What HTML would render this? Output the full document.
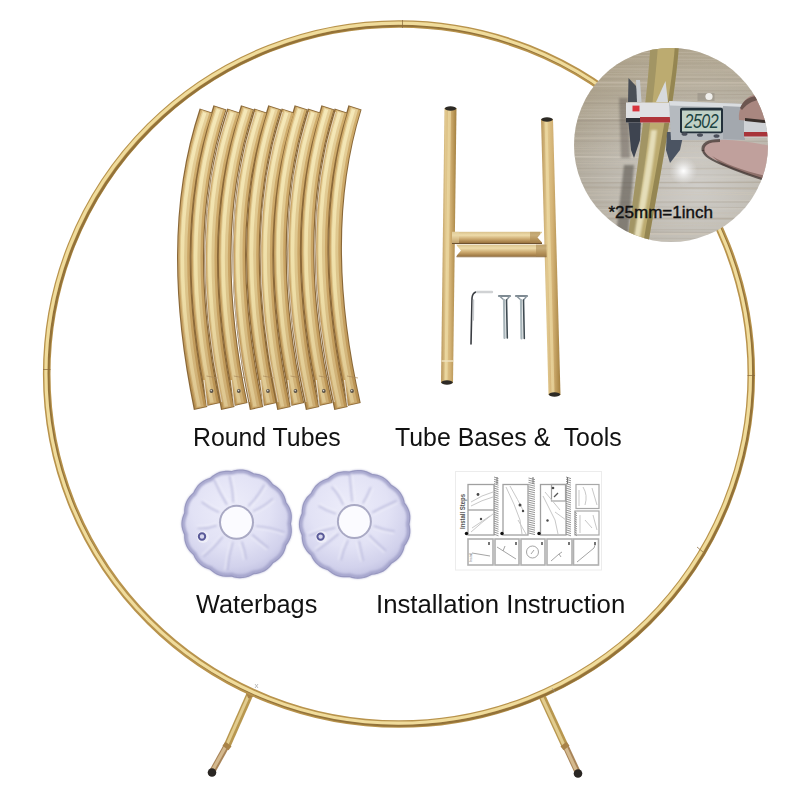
<!DOCTYPE html>
<html><head><meta charset="utf-8">
<style>
html,body{margin:0;padding:0;background:#fff;}
body{width:800px;height:800px;overflow:hidden;position:relative;}
svg{position:absolute;left:0;top:0;}
.lbl{position:absolute;font-family:"Liberation Sans",sans-serif;color:#111;white-space:pre;line-height:1;transform-origin:0 0;}
</style></head><body>
<svg width="800" height="800" viewBox="0 0 800 800">
<defs>
<filter id="bl1" x="-10%" y="-10%" width="120%" height="120%"><feGaussianBlur stdDeviation="1.1"/></filter>
<filter id="bl05" x="-10%" y="-10%" width="120%" height="120%"><feGaussianBlur stdDeviation="0.6"/></filter>
<clipPath id="pc"><circle cx="671" cy="145" r="97"/></clipPath>
<linearGradient id="brass" gradientUnits="userSpaceOnUse" x1="635" y1="145" x2="664" y2="149">
<stop offset="0" stop-color="#8c8254"/><stop offset="0.3" stop-color="#b8a86e"/><stop offset="0.6" stop-color="#c9b77a"/><stop offset="0.85" stop-color="#a08a4a"/><stop offset="1" stop-color="#6e5c2c"/>
</linearGradient>
<radialGradient id="woodbg" cx="0.62" cy="0.68" r="0.75">
<stop offset="0" stop-color="#cfcdc9"/><stop offset="0.55" stop-color="#bdb8ae"/><stop offset="1" stop-color="#aaa292"/>
</radialGradient>
<linearGradient id="woodtint" x1="0.3" y1="0" x2="0.5" y2="1">
<stop offset="0" stop-color="#ad9a72" stop-opacity="0.35"/><stop offset="0.55" stop-color="#ad9a72" stop-opacity="0"/>
</linearGradient>
<radialGradient id="glare" cx="0.5" cy="0.5" r="0.5">
<stop offset="0" stop-color="#ffffff" stop-opacity="1"/><stop offset="0.3" stop-color="#f4f4f4" stop-opacity="0.8"/><stop offset="1" stop-color="#e0e0e0" stop-opacity="0"/>
</radialGradient>
<radialGradient id="bagg" cx="0.45" cy="0.35" r="0.65">
<stop offset="0" stop-color="#ededfa"/><stop offset="0.55" stop-color="#e2e2f5"/><stop offset="0.85" stop-color="#d2d2ec"/><stop offset="1" stop-color="#c2c2e2"/>
</radialGradient>
<linearGradient id="skin" x1="0" y1="0" x2="0" y2="1">
<stop offset="0" stop-color="#b48e8e"/><stop offset="1" stop-color="#c9a3a6"/>
</linearGradient>
<linearGradient id="tg2" gradientUnits="userSpaceOnUse" x1="0" y1="105" x2="0" y2="410">
<stop offset="0" stop-color="#d0ad6c"/><stop offset="0.6" stop-color="#c9a465"/><stop offset="1" stop-color="#b89050"/>
</linearGradient>
<linearGradient id="tg3" gradientUnits="userSpaceOnUse" x1="0" y1="105" x2="0" y2="410">
<stop offset="0" stop-color="#e6d09a"/><stop offset="0.6" stop-color="#dcc48a"/><stop offset="1" stop-color="#ccab70"/>
</linearGradient>
<linearGradient id="tg4" gradientUnits="userSpaceOnUse" x1="0" y1="105" x2="0" y2="410">
<stop offset="0" stop-color="#f5e8b8"/><stop offset="0.6" stop-color="#efdfa8"/><stop offset="1" stop-color="#dcc48e"/>
</linearGradient>
<linearGradient id="postg" x1="0" y1="0" x2="1" y2="0">
<stop offset="0" stop-color="#b8955a"/><stop offset="0.3" stop-color="#e2c98f"/><stop offset="0.6" stop-color="#d3b275"/><stop offset="1" stop-color="#a4803f"/>
</linearGradient>
<linearGradient id="barg" x1="0" y1="0" x2="0" y2="1">
<stop offset="0" stop-color="#d9c18c"/><stop offset="0.3" stop-color="#eedcaa"/><stop offset="0.65" stop-color="#c9a66c"/><stop offset="1" stop-color="#96703c"/>
</linearGradient>
</defs>
<!-- legs -->
<g stroke-linecap="butt" fill="none">
<line x1="250" y1="694" x2="227" y2="746" stroke="#b8974f" stroke-width="7"/>
<line x1="249.3" y1="694" x2="226.3" y2="746" stroke="#e2cc8e" stroke-width="3"/>
<line x1="227" y1="745" x2="212" y2="772" stroke="#a88458" stroke-width="6.2"/>
<line x1="226.5" y1="745" x2="211.5" y2="772" stroke="#d4b98e" stroke-width="3.2"/>
<line x1="249.5" y1="691" x2="252" y2="697" stroke="#a98348" stroke-width="8"/>
<line x1="228.5" y1="744" x2="225.5" y2="748" stroke="#a98348" stroke-width="7.5"/>
<line x1="541.5" y1="695" x2="565" y2="746" stroke="#b8974f" stroke-width="7"/>
<line x1="540.8" y1="695" x2="564.3" y2="746" stroke="#e2cc8e" stroke-width="3"/>
<line x1="565" y1="745" x2="578" y2="773" stroke="#a88458" stroke-width="6.2"/>
<line x1="564.5" y1="745" x2="577.5" y2="773" stroke="#d4b98e" stroke-width="3.2"/>
<line x1="563.5" y1="744" x2="566.5" y2="748" stroke="#a98348" stroke-width="7.5"/>
</g>
<circle cx="212" cy="772.5" r="4.3" fill="#2a2623"/>
<circle cx="578" cy="773.5" r="4.3" fill="#2a2623"/>
<!-- ring -->
<g fill="none">
<ellipse cx="399" cy="374" rx="352.3" ry="350" stroke="#b8934c" stroke-width="7.6"/>
<ellipse cx="400.6" cy="375.6" rx="352.3" ry="350" stroke="#8a6a34" stroke-width="2.4" opacity="0.8"/>
<ellipse cx="398.2" cy="373.2" rx="352.3" ry="350" stroke="#f0dc9c" stroke-width="3.2"/>
</g>
<g stroke="#8a6a3a" stroke-width="0.9" opacity="0.8">
<line x1="402.5" y1="20" x2="402.5" y2="28"/>
<line x1="43" y1="369.5" x2="50.5" y2="369.5"/>
<line x1="747.5" y1="375.5" x2="755" y2="375.5"/>
<line x1="697" y1="547" x2="703" y2="552"/>
</g>
<g stroke="#9a9a9a" stroke-width="0.8" opacity="0.8">
<path d="M255 684 L258 688 M258 684 L255 688"/>
<path d="M552 688 L555 692"/>
</g>
<!-- tubes -->
<g fill="none" stroke-linecap="butt">
<path d="M206.2 110.6 Q164.6 235 200.6 408.5" stroke="#8a6838" stroke-width="13.8"/><path d="M220.0 107.4 Q177.9 235 213.5 404.5" stroke="#8a6838" stroke-width="13.8"/><path d="M233.8 110.6 Q191.9 235 227.8 408.5" stroke="#8a6838" stroke-width="13.8"/><path d="M247.5 107.4 Q205.3 235 240.8 404.5" stroke="#8a6838" stroke-width="13.8"/><path d="M260.8 110.6 Q219.9 235 256.6 408.5" stroke="#8a6838" stroke-width="13.8"/><path d="M274.8 107.4 Q233.6 235 270.0 404.5" stroke="#8a6838" stroke-width="13.8"/><path d="M288.2 110.6 Q247.2 235 284.0 408.5" stroke="#8a6838" stroke-width="13.8"/><path d="M301.2 107.4 Q260.5 235 297.5 404.5" stroke="#8a6838" stroke-width="13.8"/><path d="M314.5 110.6 Q274.7 235 312.6 408.5" stroke="#8a6838" stroke-width="13.8"/><path d="M328.0 107.4 Q288.1 235 325.8 404.5" stroke="#8a6838" stroke-width="13.8"/><path d="M341.2 110.6 Q302.2 235 341.0 408.5" stroke="#8a6838" stroke-width="13.8"/><path d="M355.0 107.4 Q315.6 235 354.0 404.5" stroke="#8a6838" stroke-width="13.8"/><path d="M206.2 111.39999999999999 Q164.6 235 200.6 407.7" stroke="url(#tg2)" stroke-width="11.5"/><path d="M220.0 108.2 Q177.9 235 213.5 403.7" stroke="url(#tg2)" stroke-width="11.5"/><path d="M233.8 111.39999999999999 Q191.9 235 227.8 407.7" stroke="url(#tg2)" stroke-width="11.5"/><path d="M247.5 108.2 Q205.3 235 240.8 403.7" stroke="url(#tg2)" stroke-width="11.5"/><path d="M260.8 111.39999999999999 Q219.9 235 256.6 407.7" stroke="url(#tg2)" stroke-width="11.5"/><path d="M274.8 108.2 Q233.6 235 270.0 403.7" stroke="url(#tg2)" stroke-width="11.5"/><path d="M288.2 111.39999999999999 Q247.2 235 284.0 407.7" stroke="url(#tg2)" stroke-width="11.5"/><path d="M301.2 108.2 Q260.5 235 297.5 403.7" stroke="url(#tg2)" stroke-width="11.5"/><path d="M314.5 111.39999999999999 Q274.7 235 312.6 407.7" stroke="url(#tg2)" stroke-width="11.5"/><path d="M328.0 108.2 Q288.1 235 325.8 403.7" stroke="url(#tg2)" stroke-width="11.5"/><path d="M341.2 111.39999999999999 Q302.2 235 341.0 407.7" stroke="url(#tg2)" stroke-width="11.5"/><path d="M355.0 108.2 Q315.6 235 354.0 403.7" stroke="url(#tg2)" stroke-width="11.5"/><path d="M205.8 111.8 Q164.1 235 200.1 407.3" stroke="url(#tg3)" stroke-width="7.5"/><path d="M219.5 108.60000000000001 Q177.4 235 213.0 403.3" stroke="url(#tg3)" stroke-width="7.5"/><path d="M233.2 111.8 Q191.4 235 227.3 407.3" stroke="url(#tg3)" stroke-width="7.5"/><path d="M247.0 108.60000000000001 Q204.8 235 240.3 403.3" stroke="url(#tg3)" stroke-width="7.5"/><path d="M260.3 111.8 Q219.4 235 256.1 407.3" stroke="url(#tg3)" stroke-width="7.5"/><path d="M274.3 108.60000000000001 Q233.1 235 269.5 403.3" stroke="url(#tg3)" stroke-width="7.5"/><path d="M287.7 111.8 Q246.8 235 283.5 407.3" stroke="url(#tg3)" stroke-width="7.5"/><path d="M300.7 108.60000000000001 Q260.0 235 297.0 403.3" stroke="url(#tg3)" stroke-width="7.5"/><path d="M314.0 111.8 Q274.2 235 312.1 407.3" stroke="url(#tg3)" stroke-width="7.5"/><path d="M327.5 108.60000000000001 Q287.6 235 325.3 403.3" stroke="url(#tg3)" stroke-width="7.5"/><path d="M340.7 111.8 Q301.8 235 340.5 407.3" stroke="url(#tg3)" stroke-width="7.5"/><path d="M354.5 108.60000000000001 Q315.1 235 353.5 403.3" stroke="url(#tg3)" stroke-width="7.5"/><path d="M204.8 112.6 Q163.1 235 199.1 406.5" stroke="url(#tg4)" stroke-width="3.5"/><path d="M218.5 109.4 Q176.4 235 212.0 402.5" stroke="url(#tg4)" stroke-width="3.5"/><path d="M232.2 112.6 Q190.4 235 226.3 406.5" stroke="url(#tg4)" stroke-width="3.5"/><path d="M246.0 109.4 Q203.8 235 239.3 402.5" stroke="url(#tg4)" stroke-width="3.5"/><path d="M259.3 112.6 Q218.4 235 255.1 406.5" stroke="url(#tg4)" stroke-width="3.5"/><path d="M273.3 109.4 Q232.1 235 268.5 402.5" stroke="url(#tg4)" stroke-width="3.5"/><path d="M286.7 112.6 Q245.8 235 282.5 406.5" stroke="url(#tg4)" stroke-width="3.5"/><path d="M299.7 109.4 Q259.0 235 296.0 402.5" stroke="url(#tg4)" stroke-width="3.5"/><path d="M313.0 112.6 Q273.2 235 311.1 406.5" stroke="url(#tg4)" stroke-width="3.5"/><path d="M326.5 109.4 Q286.6 235 324.3 402.5" stroke="url(#tg4)" stroke-width="3.5"/><path d="M339.7 112.6 Q300.8 235 339.5 406.5" stroke="url(#tg4)" stroke-width="3.5"/><path d="M353.5 109.4 Q314.1 235 352.5 402.5" stroke="url(#tg4)" stroke-width="3.5"/><path d="M227.9 112 Q185.9 235 221.7 402" stroke="#e9e3da" stroke-width="1" opacity="0.7"/><path d="M255.2 112 Q213.6 235 249.7 402" stroke="#e9e3da" stroke-width="1" opacity="0.7"/><path d="M282.5 112 Q241.4 235 278.0 402" stroke="#e9e3da" stroke-width="1" opacity="0.7"/><path d="M308.9 112 Q268.6 235 306.1 402" stroke="#e9e3da" stroke-width="1" opacity="0.7"/><path d="M335.6 112 Q296.2 235 334.4 402" stroke="#e9e3da" stroke-width="1" opacity="0.7"/><circle cx="211.5" cy="391" r="1.9" fill="#5a5248"/><circle cx="211.2" cy="390.6" r="0.8" fill="#d8d4cc"/><path d="M206.5 376 L217.5 378" stroke="#a8875a" stroke-width="1" opacity="0.7"/><path d="M204.0 380 L207.0 406" stroke="#f2eee6" stroke-width="1.1" opacity="0.85"/><circle cx="238.8" cy="391" r="1.9" fill="#5a5248"/><circle cx="238.5" cy="390.6" r="0.8" fill="#d8d4cc"/><path d="M233.8 376 L244.8 378" stroke="#a8875a" stroke-width="1" opacity="0.7"/><path d="M231.3 380 L234.3 406" stroke="#f2eee6" stroke-width="1.1" opacity="0.85"/><circle cx="268.0" cy="391" r="1.9" fill="#5a5248"/><circle cx="267.7" cy="390.6" r="0.8" fill="#d8d4cc"/><path d="M263.0 376 L274.0 378" stroke="#a8875a" stroke-width="1" opacity="0.7"/><path d="M260.5 380 L263.5 406" stroke="#f2eee6" stroke-width="1.1" opacity="0.85"/><circle cx="295.5" cy="391" r="1.9" fill="#5a5248"/><circle cx="295.2" cy="390.6" r="0.8" fill="#d8d4cc"/><path d="M290.5 376 L301.5 378" stroke="#a8875a" stroke-width="1" opacity="0.7"/><path d="M288.0 380 L291.0 406" stroke="#f2eee6" stroke-width="1.1" opacity="0.85"/><circle cx="323.8" cy="391" r="1.9" fill="#5a5248"/><circle cx="323.5" cy="390.6" r="0.8" fill="#d8d4cc"/><path d="M318.8 376 L329.8 378" stroke="#a8875a" stroke-width="1" opacity="0.7"/><path d="M316.3 380 L319.3 406" stroke="#f2eee6" stroke-width="1.1" opacity="0.85"/><circle cx="352.0" cy="391" r="1.9" fill="#5a5248"/><circle cx="351.7" cy="390.6" r="0.8" fill="#d8d4cc"/><path d="M347.0 376 L358.0 378" stroke="#a8875a" stroke-width="1" opacity="0.7"/><path d="M344.5 380 L347.5 406" stroke="#f2eee6" stroke-width="1.1" opacity="0.85"/>
</g>
<!-- H base -->
<g>
<path d="M444.5 108 L456.5 108 L453 383 L441 383 Z" fill="url(#postg)"/>
<path d="M541 119 L553 119 L560.5 395 L548.5 395 Z" fill="url(#postg)"/>
<path d="M448 110 L451 110 L447.5 381 L444.5 381 Z" fill="#f0dfaa" opacity="0.6"/>
<path d="M544.5 121 L547.5 121 L554.5 393 L551.5 393 Z" fill="#f0dfaa" opacity="0.6"/>
<rect x="452" y="231.8" width="90" height="11.4" fill="url(#barg)"/>
<rect x="456.5" y="244.6" width="90" height="12" fill="url(#barg)"/>
<rect x="530" y="231.8" width="10" height="11.4" fill="#a88650" opacity="0.55"/>
<rect x="536" y="244.6" width="10.5" height="12" fill="#a88650" opacity="0.55"/>
<rect x="452" y="231.8" width="7" height="11.4" fill="#e8d6a6" opacity="0.5"/>
<path d="M542.5 232 L537.5 237.5 L542.5 243 Z" fill="#ffffff"/>
<path d="M456 244.8 L461 250.6 L456 256.4 Z" fill="#ffffff"/>
<line x1="452" y1="243.5" x2="542" y2="243.5" stroke="#6e5230" stroke-width="1"/>
<line x1="456.5" y1="256.8" x2="546.5" y2="256.8" stroke="#8a6a40" stroke-width="0.8"/>
<ellipse cx="450.5" cy="108.5" rx="5.8" ry="2.2" fill="#2d2a25"/>
<ellipse cx="547" cy="119.5" rx="5.8" ry="2.2" fill="#2d2a25"/>
<ellipse cx="447" cy="382.5" rx="5.8" ry="2.2" fill="#2d2a25"/>
<ellipse cx="554.5" cy="394.5" rx="5.8" ry="2.2" fill="#2d2a25"/>
<rect x="441.5" y="360" width="12" height="2" fill="#efe3c0" opacity="0.7"/>
</g>
<!-- tools -->
<g fill="none" stroke-linecap="round">
<path d="M471 344 L472 298 Q472.5 293 476 292" stroke="#3a3d42" stroke-width="1.6"/>
<path d="M473.5 300 L473.3 320" stroke="#c9cccf" stroke-width="1.5"/>
<path d="M477 292 L492 292" stroke="#d0d2d4" stroke-width="2.4"/>
<path d="M499 296 L510 296" stroke="#7e8a92" stroke-width="2.2"/>
<path d="M516 296 L527 296" stroke="#7e8a92" stroke-width="2.2"/>
<path d="M500 296.5 L504 300 M509.5 296.5 L506.5 300 M517 296.5 L521 300 M526.5 296.5 L523.5 300" stroke="#8a969e" stroke-width="1.4"/>
<path d="M504 300 L504.5 338" stroke="#a9b6bb" stroke-width="2.2"/>
<path d="M506.5 300 L507.3 338" stroke="#3f4b52" stroke-width="1.6"/>
<path d="M521 300 L521.5 338.5" stroke="#a9b6bb" stroke-width="2.2"/>
<path d="M523.5 300 L524.3 338.5" stroke="#3f4b52" stroke-width="1.6"/>
</g>
<!-- photo -->
<g clip-path="url(#pc)">
<rect x="570" y="44" width="205" height="205" fill="url(#woodbg)"/>
<rect x="570" y="44" width="205" height="205" fill="url(#woodtint)"/>
<path d="M570 44.0 L775 43.8" stroke="#ddd5c8" stroke-width="1.8" opacity="0.35"/><path d="M570 48.8 L775 48.7" stroke="#9a8f80" stroke-width="1" opacity="0.45"/><path d="M570 52.8 L775 52.0" stroke="#d2c8b8" stroke-width="1" opacity="0.35"/><path d="M570 54.8 L775 56.7" stroke="#ddd5c8" stroke-width="0.7" opacity="0.35"/><path d="M570 58.5 L775 59.8" stroke="#ddd5c8" stroke-width="1" opacity="0.25"/><path d="M570 60.5 L775 62.0" stroke="#d2c8b8" stroke-width="0.7" opacity="0.25"/><path d="M570 64.2 L775 64.0" stroke="#a69b8b" stroke-width="0.7" opacity="0.35"/><path d="M570 66.4 L775 64.4" stroke="#c8bead" stroke-width="1" opacity="0.35"/><path d="M570 68.4 L775 70.4" stroke="#c8bead" stroke-width="1.8" opacity="0.35"/><path d="M570 71.2 L775 71.3" stroke="#c8bead" stroke-width="1.3" opacity="0.25"/><path d="M570 73.5 L775 73.1" stroke="#ddd5c8" stroke-width="0.7" opacity="0.25"/><path d="M570 76.2 L775 77.6" stroke="#d2c8b8" stroke-width="1.8" opacity="0.25"/><path d="M570 79.0 L775 78.9" stroke="#9a8f80" stroke-width="1" opacity="0.25"/><path d="M570 82.5 L775 83.0" stroke="#d2c8b8" stroke-width="1.8" opacity="0.45"/><path d="M570 86.3 L775 85.6" stroke="#d2c8b8" stroke-width="1.3" opacity="0.35"/><path d="M570 90.1 L775 90.9" stroke="#9a8f80" stroke-width="0.7" opacity="0.25"/><path d="M570 91.8 L775 90.5" stroke="#a69b8b" stroke-width="0.7" opacity="0.35"/><path d="M570 95.5 L775 94.3" stroke="#a69b8b" stroke-width="1" opacity="0.45"/><path d="M570 98.0 L775 97.6" stroke="#a69b8b" stroke-width="1.8" opacity="0.25"/><path d="M570 101.3 L775 100.5" stroke="#c8bead" stroke-width="0.7" opacity="0.45"/><path d="M570 103.0 L775 105.0" stroke="#9a8f80" stroke-width="1" opacity="0.35"/><path d="M570 107.0 L775 105.9" stroke="#d2c8b8" stroke-width="0.7" opacity="0.25"/><path d="M570 109.7 L775 111.0" stroke="#ddd5c8" stroke-width="0.7" opacity="0.35"/><path d="M570 112.9 L775 111.7" stroke="#d2c8b8" stroke-width="0.7" opacity="0.25"/><path d="M570 115.1 L775 114.6" stroke="#ddd5c8" stroke-width="0.7" opacity="0.35"/><path d="M570 118.3 L775 119.6" stroke="#ddd5c8" stroke-width="1" opacity="0.35"/><path d="M570 120.8 L775 119.4" stroke="#9a8f80" stroke-width="1.8" opacity="0.45"/><path d="M570 124.1 L775 125.1" stroke="#9a8f80" stroke-width="1" opacity="0.25"/><path d="M570 128.1 L775 128.5" stroke="#a69b8b" stroke-width="1" opacity="0.35"/><path d="M570 131.6 L775 129.8" stroke="#d2c8b8" stroke-width="0.7" opacity="0.25"/><path d="M570 134.3 L775 134.0" stroke="#a69b8b" stroke-width="1" opacity="0.35"/><path d="M570 138.3 L775 137.0" stroke="#c8bead" stroke-width="1.8" opacity="0.45"/><path d="M570 141.1 L775 141.3" stroke="#9a8f80" stroke-width="1" opacity="0.35"/><path d="M570 145.1 L775 146.8" stroke="#c8bead" stroke-width="0.7" opacity="0.25"/><path d="M570 147.3 L775 146.9" stroke="#d2c8b8" stroke-width="0.7" opacity="0.35"/><path d="M570 149.5 L775 148.6" stroke="#d2c8b8" stroke-width="0.7" opacity="0.25"/><path d="M570 153.2 L775 151.8" stroke="#d2c8b8" stroke-width="1" opacity="0.35"/><path d="M570 156.7 L775 158.5" stroke="#ddd5c8" stroke-width="1.3" opacity="0.45"/><path d="M570 161.0 L775 162.6" stroke="#d2c8b8" stroke-width="0.7" opacity="0.35"/><path d="M570 163.7 L775 164.2" stroke="#d2c8b8" stroke-width="0.7" opacity="0.45"/><path d="M570 166.9 L775 165.4" stroke="#c8bead" stroke-width="0.7" opacity="0.35"/><path d="M570 168.6 L775 168.1" stroke="#a69b8b" stroke-width="0.7" opacity="0.45"/><path d="M570 170.3 L775 168.6" stroke="#c8bead" stroke-width="1" opacity="0.35"/><path d="M570 173.8 L775 175.3" stroke="#a69b8b" stroke-width="0.7" opacity="0.25"/><path d="M570 177.5 L775 177.0" stroke="#ddd5c8" stroke-width="0.7" opacity="0.45"/><path d="M570 181.2 L775 179.5" stroke="#ddd5c8" stroke-width="0.7" opacity="0.25"/><path d="M570 182.9 L775 182.2" stroke="#a69b8b" stroke-width="1.3" opacity="0.45"/><path d="M570 187.2 L775 188.6" stroke="#a69b8b" stroke-width="1.8" opacity="0.35"/><path d="M570 190.0 L775 188.4" stroke="#c8bead" stroke-width="0.7" opacity="0.45"/><path d="M570 191.7 L775 192.8" stroke="#d2c8b8" stroke-width="1" opacity="0.35"/><path d="M570 195.2 L775 194.4" stroke="#d2c8b8" stroke-width="1.3" opacity="0.35"/><path d="M570 199.5 L775 200.5" stroke="#ddd5c8" stroke-width="1" opacity="0.25"/><path d="M570 202.5 L775 201.8" stroke="#a69b8b" stroke-width="1.8" opacity="0.25"/><path d="M570 206.3 L775 207.8" stroke="#a69b8b" stroke-width="1" opacity="0.25"/><path d="M570 209.8 L775 208.6" stroke="#ddd5c8" stroke-width="1" opacity="0.35"/><path d="M570 212.3 L775 213.1" stroke="#c8bead" stroke-width="1.8" opacity="0.25"/><path d="M570 216.1 L775 216.0" stroke="#d2c8b8" stroke-width="1" opacity="0.35"/><path d="M570 218.6 L775 218.7" stroke="#a69b8b" stroke-width="1.8" opacity="0.45"/><path d="M570 222.4 L775 223.7" stroke="#c8bead" stroke-width="1.8" opacity="0.25"/><path d="M570 226.2 L775 225.6" stroke="#c8bead" stroke-width="0.7" opacity="0.45"/><path d="M570 229.9 L775 229.7" stroke="#9a8f80" stroke-width="0.7" opacity="0.35"/><path d="M570 231.6 L775 232.8" stroke="#9a8f80" stroke-width="1.3" opacity="0.25"/><path d="M570 233.9 L775 234.0" stroke="#d2c8b8" stroke-width="1.8" opacity="0.45"/><path d="M570 237.7 L775 239.0" stroke="#9a8f80" stroke-width="0.7" opacity="0.25"/><path d="M570 240.4 L775 240.5" stroke="#d2c8b8" stroke-width="1" opacity="0.35"/><path d="M570 242.4 L775 243.5" stroke="#9a8f80" stroke-width="1" opacity="0.35"/><path d="M570 246.4 L775 248.0" stroke="#a69b8b" stroke-width="1" opacity="0.45"/><path d="M570 248.4 L775 248.2" stroke="#a69b8b" stroke-width="1.8" opacity="0.25"/>
<!-- shadows -->
<path d="M619 98 L628 98 L630 158 L621 158 Z" fill="#5e5852" opacity="0.45" filter="url(#bl1)"/>
<path d="M624 165 L634 165 L628 235 L616 235 Z" fill="#5a5650" opacity="0.6" filter="url(#bl1)"/>
<!-- brass tube -->
<path d="M650.5 44 C648 90 640 150 627 245 L648 245 C665 150 676 90 679 44 Z" fill="#bcab70"/>
<path d="M650.5 44 C648 90 640 150 627 245 L634 245 C647 150 655 90 658 44 Z" fill="#7c7552" opacity="0.4" filter="url(#bl05)"/>
<path d="M675 44 C672 90 659 150 643 245 L648 245 C665 150 676 90 679 44 Z" fill="#6e6436" opacity="0.5" filter="url(#bl05)"/>
<path d="M651 130 L657 130 C652 175 646 205 640 238 L634 238 C639 205 645 175 651 130 Z" fill="#efeacb" opacity="0.8" filter="url(#bl1)"/>
<!-- jaws -->
<path d="M628.5 78 L636 86 L641 102 L628 102 Z" fill="#4a4f57"/>
<path d="M636 80 L640 80 L641.5 102 L637 102 Z" fill="#c7cbd0"/>
<path d="M665.5 81 L668 102 L656 102 Z" fill="#d6d9dc"/>
<path d="M628 118 L641 118 L640 140 L634 158 L631 150 Z" fill="#3e4450"/>
<path d="M667 132 L684 132 L680 150 L670 163 L666 150 Z" fill="#4b5462"/>
<!-- scale bar -->
<rect x="626" y="102.5" width="46" height="20" fill="#dfe0e3"/>
<rect x="640" y="117" width="31" height="5.5" fill="#b0343a"/>
<rect x="626" y="118" width="14" height="4.5" fill="#2e3138"/>
<rect x="632.5" y="105.6" width="7" height="5.8" fill="#d8333d"/>
<!-- body -->
<path d="M669 101 L744 104 L745 140 L671 140 Z" fill="#b5babf"/>
<path d="M669 101 L744 104 L744 108 L670 105.5 Z" fill="#dadde0"/>
<path d="M723 106 L744 107 L745 140 L723 139 Z" fill="#a3a8ae"/>
<rect x="680" y="107.8" width="43" height="25.5" rx="2" fill="#22303a"/>
<rect x="682" y="110.5" width="39" height="21" fill="#c0d1c6"/>
<text x="684.5" y="128" font-family="Liberation Sans" font-size="20" fill="#1d4442" font-style="italic" letter-spacing="-0.6" transform="translate(684.5 0) scale(0.8 1) translate(-684.5 0)">2502</text>
<ellipse cx="684.5" cy="134" rx="3" ry="1.8" fill="#4a4f5a"/>
<ellipse cx="700" cy="135" rx="3" ry="1.8" fill="#4a4f5a"/>
<ellipse cx="716.5" cy="136" rx="3" ry="1.8" fill="#4a4f5a"/>
<rect x="744" y="117.5" width="30" height="20" fill="#cfd2d6"/>
<rect x="744" y="132" width="30" height="4.5" fill="#a8343a"/>
<rect x="697.5" y="93" width="17" height="8" fill="#8f8a80" opacity="0.5"/>
<circle cx="709" cy="96.5" r="3.6" fill="#f0efec"/>
<!-- upper finger -->
<path d="M739 120 C738 106 746 95 758 94 L775 95 L775 123 C766 122 750 121 739 120 Z" fill="#a98780"/>
<path d="M740 108 C744 98 752 94 775 95 L775 99 C760 98 750 100 742 110 Z" fill="#5e4a44" opacity="0.8"/>
<path d="M745 118 L775 121 L775 124 L745 121 Z" fill="#3a302c"/>
<!-- thumb -->
<path d="M703 150 C702 142 712 139 728 140 C748 141 765 145 775 147 L775 182 C760 178 742 172 722 163 C711 158 704 155 703 150 Z" fill="#c0a09c"/>
<path d="M712 156 C725 164 745 172 775 178 L775 182 C758 178 740 172 722 165 Z" fill="#7a5c56" opacity="0.7" filter="url(#bl05)"/>
<path d="M703 150 C704 156 712 160 724 165 C740 172 758 178 775 183" stroke="#3e302e" stroke-width="2.2" fill="none" opacity="0.75" filter="url(#bl05)"/>
<path d="M720 140.5 C708 140.5 702 144 703 151" stroke="#3e302e" stroke-width="3" fill="none" opacity="0.7" filter="url(#bl05)"/>
<circle cx="683.5" cy="171" r="14" fill="url(#glare)"/>
<text x="608.5" y="218.2" font-family="Liberation Sans" font-size="17" fill="#111" stroke="#111" stroke-width="0.4">*25mm=1inch</text>
</g>
<!-- waterbags -->
<g>
<path d="M290.4 523.8 L290.9 526.6 L291.2 529.4 L291.2 532.2 L290.8 535.0 L290.0 537.7 L288.9 540.3 L287.4 542.8 L285.8 545.1 L285.1 547.9 L284.2 550.6 L283.0 553.1 L281.5 555.5 L279.6 557.7 L277.5 559.6 L275.2 561.3 L272.7 562.8 L271.0 565.0 L269.1 567.1 L266.9 569.0 L264.5 570.6 L261.9 571.8 L259.2 572.7 L256.4 573.3 L253.5 573.7 L251.0 575.0 L248.3 576.2 L245.6 577.0 L242.7 577.5 L239.9 577.6 L237.0 577.3 L234.2 576.8 L231.4 575.9 L228.6 576.2 L225.7 576.2 L222.8 575.8 L220.0 575.2 L217.3 574.1 L214.8 572.7 L212.5 571.1 L210.3 569.2 L207.6 568.3 L204.9 567.1 L202.5 565.7 L200.2 563.9 L198.2 561.9 L196.5 559.6 L195.0 557.2 L193.8 554.6 L191.7 552.7 L189.8 550.6 L188.1 548.3 L186.8 545.8 L185.8 543.1 L185.1 540.3 L184.8 537.5 L184.8 534.7 L183.7 532.1 L182.8 529.4 L182.2 526.6 L182.0 523.8 L182.2 521.0 L182.8 518.2 L183.7 515.5 L184.8 512.9 L184.8 510.1 L185.1 507.3 L185.8 504.5 L186.8 501.8 L188.1 499.3 L189.8 497.0 L191.7 494.9 L193.8 493.0 L195.0 490.4 L196.5 488.0 L198.2 485.7 L200.2 483.7 L202.5 481.9 L204.9 480.5 L207.6 479.3 L210.3 478.4 L212.5 476.5 L214.8 474.9 L217.3 473.5 L220.0 472.4 L222.8 471.8 L225.7 471.4 L228.6 471.4 L231.4 471.7 L234.2 470.8 L237.0 470.3 L239.9 470.0 L242.7 470.1 L245.6 470.6 L248.3 471.4 L251.0 472.6 L253.5 473.9 L256.4 474.3 L259.2 474.9 L261.9 475.8 L264.5 477.0 L266.9 478.6 L269.1 480.5 L271.0 482.6 L272.7 484.8 L275.2 486.3 L277.5 488.0 L279.6 489.9 L281.5 492.1 L283.0 494.5 L284.2 497.0 L285.1 499.7 L285.8 502.5 L287.4 504.8 L288.9 507.3 L290.0 509.9 L290.8 512.6 L291.2 515.4 L291.2 518.2 L290.9 521.0 L290.4 523.8Z" fill="url(#bagg)"/>
<path d="M408.9 524.3 L409.4 527.1 L409.7 529.9 L409.7 532.7 L409.3 535.5 L408.5 538.2 L407.3 540.8 L405.9 543.3 L404.2 545.6 L403.6 548.4 L402.7 551.1 L401.4 553.6 L399.9 556.0 L398.0 558.2 L395.9 560.1 L393.5 561.8 L391.1 563.3 L389.3 565.5 L387.3 567.6 L385.2 569.5 L382.8 571.1 L380.1 572.3 L377.4 573.2 L374.5 573.8 L371.7 574.2 L369.1 575.5 L366.4 576.7 L363.7 577.5 L360.8 578.0 L357.9 578.1 L355.0 577.8 L352.1 577.3 L349.4 576.5 L346.5 576.7 L343.6 576.7 L340.7 576.3 L337.8 575.7 L335.2 574.6 L332.6 573.2 L330.3 571.6 L328.1 569.7 L325.3 568.8 L322.7 567.6 L320.1 566.2 L317.9 564.4 L315.8 562.4 L314.1 560.1 L312.6 557.7 L311.4 555.1 L309.3 553.2 L307.3 551.1 L305.7 548.8 L304.3 546.3 L303.3 543.6 L302.7 540.8 L302.3 538.0 L302.3 535.2 L301.2 532.6 L300.3 529.9 L299.7 527.1 L299.5 524.3 L299.7 521.5 L300.3 518.7 L301.2 516.0 L302.3 513.4 L302.3 510.6 L302.7 507.8 L303.3 505.0 L304.3 502.3 L305.7 499.8 L307.3 497.5 L309.3 495.4 L311.4 493.5 L312.6 490.9 L314.1 488.5 L315.8 486.2 L317.9 484.2 L320.1 482.4 L322.7 481.0 L325.3 479.8 L328.0 478.9 L330.3 477.0 L332.6 475.4 L335.2 474.0 L337.8 472.9 L340.7 472.3 L343.6 471.9 L346.5 471.9 L349.4 472.1 L352.1 471.3 L355.0 470.8 L357.9 470.5 L360.8 470.6 L363.7 471.1 L366.4 471.9 L369.1 473.1 L371.7 474.4 L374.5 474.8 L377.4 475.4 L380.1 476.3 L382.8 477.5 L385.2 479.1 L387.3 481.0 L389.3 483.1 L391.1 485.3 L393.5 486.8 L395.9 488.5 L398.0 490.4 L399.9 492.6 L401.4 495.0 L402.7 497.5 L403.6 500.2 L404.2 503.0 L405.9 505.3 L407.3 507.8 L408.5 510.4 L409.3 513.1 L409.7 515.9 L409.7 518.7 L409.4 521.5 L408.9 524.3Z" fill="url(#bagg)"/>
<g filter="url(#bl1)"><path d="M290.4 523.8 L290.9 526.6 L291.2 529.4 L291.2 532.2 L290.8 535.0 L290.0 537.7 L288.9 540.3 L287.4 542.8 L285.8 545.1 L285.1 547.9 L284.2 550.6 L283.0 553.1 L281.5 555.5 L279.6 557.7 L277.5 559.6 L275.2 561.3 L272.7 562.8 L271.0 565.0 L269.1 567.1 L266.9 569.0 L264.5 570.6 L261.9 571.8 L259.2 572.7 L256.4 573.3 L253.5 573.7 L251.0 575.0 L248.3 576.2 L245.6 577.0 L242.7 577.5 L239.9 577.6 L237.0 577.3 L234.2 576.8 L231.4 575.9 L228.6 576.2 L225.7 576.2 L222.8 575.8 L220.0 575.2 L217.3 574.1 L214.8 572.7 L212.5 571.1 L210.3 569.2 L207.6 568.3 L204.9 567.1 L202.5 565.7 L200.2 563.9 L198.2 561.9 L196.5 559.6 L195.0 557.2 L193.8 554.6 L191.7 552.7 L189.8 550.6 L188.1 548.3 L186.8 545.8 L185.8 543.1 L185.1 540.3 L184.8 537.5 L184.8 534.7 L183.7 532.1 L182.8 529.4 L182.2 526.6 L182.0 523.8 L182.2 521.0 L182.8 518.2 L183.7 515.5 L184.8 512.9 L184.8 510.1 L185.1 507.3 L185.8 504.5 L186.8 501.8 L188.1 499.3 L189.8 497.0 L191.7 494.9 L193.8 493.0 L195.0 490.4 L196.5 488.0 L198.2 485.7 L200.2 483.7 L202.5 481.9 L204.9 480.5 L207.6 479.3 L210.3 478.4 L212.5 476.5 L214.8 474.9 L217.3 473.5 L220.0 472.4 L222.8 471.8 L225.7 471.4 L228.6 471.4 L231.4 471.7 L234.2 470.8 L237.0 470.3 L239.9 470.0 L242.7 470.1 L245.6 470.6 L248.3 471.4 L251.0 472.6 L253.5 473.9 L256.4 474.3 L259.2 474.9 L261.9 475.8 L264.5 477.0 L266.9 478.6 L269.1 480.5 L271.0 482.6 L272.7 484.8 L275.2 486.3 L277.5 488.0 L279.6 489.9 L281.5 492.1 L283.0 494.5 L284.2 497.0 L285.1 499.7 L285.8 502.5 L287.4 504.8 L288.9 507.3 L290.0 509.9 L290.8 512.6 L291.2 515.4 L291.2 518.2 L290.9 521.0 L290.4 523.8Z" fill="none" stroke="#a4a4cc" stroke-width="3.5" transform="translate(236.9 523.8) scale(0.975) translate(-236.9 -523.8)"/><path d="M408.9 524.3 L409.4 527.1 L409.7 529.9 L409.7 532.7 L409.3 535.5 L408.5 538.2 L407.3 540.8 L405.9 543.3 L404.2 545.6 L403.6 548.4 L402.7 551.1 L401.4 553.6 L399.9 556.0 L398.0 558.2 L395.9 560.1 L393.5 561.8 L391.1 563.3 L389.3 565.5 L387.3 567.6 L385.2 569.5 L382.8 571.1 L380.1 572.3 L377.4 573.2 L374.5 573.8 L371.7 574.2 L369.1 575.5 L366.4 576.7 L363.7 577.5 L360.8 578.0 L357.9 578.1 L355.0 577.8 L352.1 577.3 L349.4 576.5 L346.5 576.7 L343.6 576.7 L340.7 576.3 L337.8 575.7 L335.2 574.6 L332.6 573.2 L330.3 571.6 L328.1 569.7 L325.3 568.8 L322.7 567.6 L320.1 566.2 L317.9 564.4 L315.8 562.4 L314.1 560.1 L312.6 557.7 L311.4 555.1 L309.3 553.2 L307.3 551.1 L305.7 548.8 L304.3 546.3 L303.3 543.6 L302.7 540.8 L302.3 538.0 L302.3 535.2 L301.2 532.6 L300.3 529.9 L299.7 527.1 L299.5 524.3 L299.7 521.5 L300.3 518.7 L301.2 516.0 L302.3 513.4 L302.3 510.6 L302.7 507.8 L303.3 505.0 L304.3 502.3 L305.7 499.8 L307.3 497.5 L309.3 495.4 L311.4 493.5 L312.6 490.9 L314.1 488.5 L315.8 486.2 L317.9 484.2 L320.1 482.4 L322.7 481.0 L325.3 479.8 L328.0 478.9 L330.3 477.0 L332.6 475.4 L335.2 474.0 L337.8 472.9 L340.7 472.3 L343.6 471.9 L346.5 471.9 L349.4 472.1 L352.1 471.3 L355.0 470.8 L357.9 470.5 L360.8 470.6 L363.7 471.1 L366.4 471.9 L369.1 473.1 L371.7 474.4 L374.5 474.8 L377.4 475.4 L380.1 476.3 L382.8 477.5 L385.2 479.1 L387.3 481.0 L389.3 483.1 L391.1 485.3 L393.5 486.8 L395.9 488.5 L398.0 490.4 L399.9 492.6 L401.4 495.0 L402.7 497.5 L403.6 500.2 L404.2 503.0 L405.9 505.3 L407.3 507.8 L408.5 510.4 L409.3 513.1 L409.7 515.9 L409.7 518.7 L409.4 521.5 L408.9 524.3Z" fill="none" stroke="#a4a4cc" stroke-width="3.5" transform="translate(355 524.3) scale(0.975) translate(-355 -524.3)"/></g>
<path d="M290.4 523.8 L290.9 526.6 L291.2 529.4 L291.2 532.2 L290.8 535.0 L290.0 537.7 L288.9 540.3 L287.4 542.8 L285.8 545.1 L285.1 547.9 L284.2 550.6 L283.0 553.1 L281.5 555.5 L279.6 557.7 L277.5 559.6 L275.2 561.3 L272.7 562.8 L271.0 565.0 L269.1 567.1 L266.9 569.0 L264.5 570.6 L261.9 571.8 L259.2 572.7 L256.4 573.3 L253.5 573.7 L251.0 575.0 L248.3 576.2 L245.6 577.0 L242.7 577.5 L239.9 577.6 L237.0 577.3 L234.2 576.8 L231.4 575.9 L228.6 576.2 L225.7 576.2 L222.8 575.8 L220.0 575.2 L217.3 574.1 L214.8 572.7 L212.5 571.1 L210.3 569.2 L207.6 568.3 L204.9 567.1 L202.5 565.7 L200.2 563.9 L198.2 561.9 L196.5 559.6 L195.0 557.2 L193.8 554.6 L191.7 552.7 L189.8 550.6 L188.1 548.3 L186.8 545.8 L185.8 543.1 L185.1 540.3 L184.8 537.5 L184.8 534.7 L183.7 532.1 L182.8 529.4 L182.2 526.6 L182.0 523.8 L182.2 521.0 L182.8 518.2 L183.7 515.5 L184.8 512.9 L184.8 510.1 L185.1 507.3 L185.8 504.5 L186.8 501.8 L188.1 499.3 L189.8 497.0 L191.7 494.9 L193.8 493.0 L195.0 490.4 L196.5 488.0 L198.2 485.7 L200.2 483.7 L202.5 481.9 L204.9 480.5 L207.6 479.3 L210.3 478.4 L212.5 476.5 L214.8 474.9 L217.3 473.5 L220.0 472.4 L222.8 471.8 L225.7 471.4 L228.6 471.4 L231.4 471.7 L234.2 470.8 L237.0 470.3 L239.9 470.0 L242.7 470.1 L245.6 470.6 L248.3 471.4 L251.0 472.6 L253.5 473.9 L256.4 474.3 L259.2 474.9 L261.9 475.8 L264.5 477.0 L266.9 478.6 L269.1 480.5 L271.0 482.6 L272.7 484.8 L275.2 486.3 L277.5 488.0 L279.6 489.9 L281.5 492.1 L283.0 494.5 L284.2 497.0 L285.1 499.7 L285.8 502.5 L287.4 504.8 L288.9 507.3 L290.0 509.9 L290.8 512.6 L291.2 515.4 L291.2 518.2 L290.9 521.0 L290.4 523.8Z" fill="none" stroke="#9898c0" stroke-width="1.2"/>
<path d="M408.9 524.3 L409.4 527.1 L409.7 529.9 L409.7 532.7 L409.3 535.5 L408.5 538.2 L407.3 540.8 L405.9 543.3 L404.2 545.6 L403.6 548.4 L402.7 551.1 L401.4 553.6 L399.9 556.0 L398.0 558.2 L395.9 560.1 L393.5 561.8 L391.1 563.3 L389.3 565.5 L387.3 567.6 L385.2 569.5 L382.8 571.1 L380.1 572.3 L377.4 573.2 L374.5 573.8 L371.7 574.2 L369.1 575.5 L366.4 576.7 L363.7 577.5 L360.8 578.0 L357.9 578.1 L355.0 577.8 L352.1 577.3 L349.4 576.5 L346.5 576.7 L343.6 576.7 L340.7 576.3 L337.8 575.7 L335.2 574.6 L332.6 573.2 L330.3 571.6 L328.1 569.7 L325.3 568.8 L322.7 567.6 L320.1 566.2 L317.9 564.4 L315.8 562.4 L314.1 560.1 L312.6 557.7 L311.4 555.1 L309.3 553.2 L307.3 551.1 L305.7 548.8 L304.3 546.3 L303.3 543.6 L302.7 540.8 L302.3 538.0 L302.3 535.2 L301.2 532.6 L300.3 529.9 L299.7 527.1 L299.5 524.3 L299.7 521.5 L300.3 518.7 L301.2 516.0 L302.3 513.4 L302.3 510.6 L302.7 507.8 L303.3 505.0 L304.3 502.3 L305.7 499.8 L307.3 497.5 L309.3 495.4 L311.4 493.5 L312.6 490.9 L314.1 488.5 L315.8 486.2 L317.9 484.2 L320.1 482.4 L322.7 481.0 L325.3 479.8 L328.0 478.9 L330.3 477.0 L332.6 475.4 L335.2 474.0 L337.8 472.9 L340.7 472.3 L343.6 471.9 L346.5 471.9 L349.4 472.1 L352.1 471.3 L355.0 470.8 L357.9 470.5 L360.8 470.6 L363.7 471.1 L366.4 471.9 L369.1 473.1 L371.7 474.4 L374.5 474.8 L377.4 475.4 L380.1 476.3 L382.8 477.5 L385.2 479.1 L387.3 481.0 L389.3 483.1 L391.1 485.3 L393.5 486.8 L395.9 488.5 L398.0 490.4 L399.9 492.6 L401.4 495.0 L402.7 497.5 L403.6 500.2 L404.2 503.0 L405.9 505.3 L407.3 507.8 L408.5 510.4 L409.3 513.1 L409.7 515.9 L409.7 518.7 L409.4 521.5 L408.9 524.3Z" fill="none" stroke="#9898c0" stroke-width="1.2"/>
<g filter="url(#bl1)"><path d="M233.7 502.5 Q233.3 489.0 229.9 475.9" stroke="#aeaed6" stroke-width="2.4" fill="none" opacity="0.7"/><path d="M235.2 502.3 Q234.8 488.8 231.4 475.6" stroke="#f8f8ff" stroke-width="2" fill="none" opacity="0.6"/><path d="M248.6 506.3 Q258.3 497.0 264.8 484.9" stroke="#aeaed6" stroke-width="2.4" fill="none" opacity="0.7"/><path d="M249.8 507.2 Q259.5 497.9 266.0 485.8" stroke="#f8f8ff" stroke-width="2" fill="none" opacity="0.6"/><path d="M253.4 511.5 Q264.4 507.0 273.2 498.9" stroke="#aeaed6" stroke-width="2.4" fill="none" opacity="0.7"/><path d="M254.2 512.8 Q265.2 508.3 274.1 500.1" stroke="#f8f8ff" stroke-width="2" fill="none" opacity="0.6"/><path d="M256.0 526.6 Q270.5 527.7 284.2 532.8" stroke="#aeaed6" stroke-width="2.4" fill="none" opacity="0.7"/><path d="M255.7 528.1 Q270.2 529.2 283.9 534.2" stroke="#f8f8ff" stroke-width="2" fill="none" opacity="0.6"/><path d="M251.9 535.0 Q259.9 541.8 268.1 548.4" stroke="#aeaed6" stroke-width="2.4" fill="none" opacity="0.7"/><path d="M251.0 536.2 Q258.9 543.0 267.1 549.5" stroke="#f8f8ff" stroke-width="2" fill="none" opacity="0.6"/><path d="M241.3 541.7 Q244.6 550.2 245.6 559.4" stroke="#aeaed6" stroke-width="2.4" fill="none" opacity="0.7"/><path d="M239.8 542.1 Q243.2 550.6 244.2 559.7" stroke="#f8f8ff" stroke-width="2" fill="none" opacity="0.6"/><path d="M232.5 541.9 Q228.3 555.8 226.8 570.3" stroke="#aeaed6" stroke-width="2.4" fill="none" opacity="0.7"/><path d="M231.1 541.6 Q226.8 555.5 225.3 570.0" stroke="#f8f8ff" stroke-width="2" fill="none" opacity="0.6"/><path d="M222.5 536.6 Q214.1 547.6 203.1 556.2" stroke="#aeaed6" stroke-width="2.4" fill="none" opacity="0.7"/><path d="M221.4 535.5 Q213.1 546.6 202.1 555.1" stroke="#f8f8ff" stroke-width="2" fill="none" opacity="0.6"/><path d="M216.7 525.1 Q207.4 528.7 197.4 527.9" stroke="#aeaed6" stroke-width="2.4" fill="none" opacity="0.7"/><path d="M216.5 523.6 Q207.2 527.2 197.2 526.4" stroke="#f8f8ff" stroke-width="2" fill="none" opacity="0.6"/><path d="M219.3 512.0 Q209.9 507.9 201.8 501.5" stroke="#aeaed6" stroke-width="2.4" fill="none" opacity="0.7"/><path d="M220.1 510.7 Q210.7 506.6 202.5 500.2" stroke="#f8f8ff" stroke-width="2" fill="none" opacity="0.6"/><path d="M227.3 504.5 Q219.9 492.4 214.3 479.2" stroke="#aeaed6" stroke-width="2.4" fill="none" opacity="0.7"/><path d="M228.7 503.8 Q221.2 491.7 215.6 478.5" stroke="#f8f8ff" stroke-width="2" fill="none" opacity="0.6"/>
<path d="M352.6 501.6 Q351.2 487.7 350.0 473.8" stroke="#aeaed6" stroke-width="2.4" fill="none" opacity="0.7"/><path d="M354.0 501.4 Q352.7 487.6 351.5 473.7" stroke="#f8f8ff" stroke-width="2" fill="none" opacity="0.6"/><path d="M363.2 503.6 Q367.8 495.8 371.2 487.4" stroke="#aeaed6" stroke-width="2.4" fill="none" opacity="0.7"/><path d="M364.6 504.2 Q369.2 496.5 372.5 488.1" stroke="#f8f8ff" stroke-width="2" fill="none" opacity="0.6"/><path d="M372.5 512.9 Q384.4 506.5 396.9 501.2" stroke="#aeaed6" stroke-width="2.4" fill="none" opacity="0.7"/><path d="M373.1 514.3 Q385.1 507.8 397.6 502.6" stroke="#f8f8ff" stroke-width="2" fill="none" opacity="0.6"/><path d="M373.8 526.4 Q383.7 530.4 394.4 531.7" stroke="#aeaed6" stroke-width="2.4" fill="none" opacity="0.7"/><path d="M373.4 527.9 Q383.3 531.9 394.0 533.2" stroke="#f8f8ff" stroke-width="2" fill="none" opacity="0.6"/><path d="M368.9 535.3 Q377.0 543.4 385.5 551.2" stroke="#aeaed6" stroke-width="2.4" fill="none" opacity="0.7"/><path d="M367.8 536.4 Q376.0 544.5 384.4 552.3" stroke="#f8f8ff" stroke-width="2" fill="none" opacity="0.6"/><path d="M358.6 541.1 Q360.5 551.0 362.8 560.9" stroke="#aeaed6" stroke-width="2.4" fill="none" opacity="0.7"/><path d="M357.1 541.4 Q359.0 551.4 361.4 561.2" stroke="#f8f8ff" stroke-width="2" fill="none" opacity="0.6"/><path d="M347.6 540.3 Q342.7 549.8 340.4 560.2" stroke="#aeaed6" stroke-width="2.4" fill="none" opacity="0.7"/><path d="M346.2 539.8 Q341.3 549.3 339.0 559.7" stroke="#f8f8ff" stroke-width="2" fill="none" opacity="0.6"/><path d="M338.4 533.5 Q327.7 542.7 316.0 550.5" stroke="#aeaed6" stroke-width="2.4" fill="none" opacity="0.7"/><path d="M337.5 532.3 Q326.8 541.5 315.1 549.3" stroke="#f8f8ff" stroke-width="2" fill="none" opacity="0.6"/><path d="M335.2 527.2 Q321.6 529.6 308.8 535.0" stroke="#aeaed6" stroke-width="2.4" fill="none" opacity="0.7"/><path d="M334.8 525.7 Q321.2 528.2 308.3 533.6" stroke="#f8f8ff" stroke-width="2" fill="none" opacity="0.6"/><path d="M336.1 513.3 Q326.9 510.7 318.7 505.5" stroke="#aeaed6" stroke-width="2.4" fill="none" opacity="0.7"/><path d="M336.8 512.0 Q327.5 509.3 319.3 504.1" stroke="#f8f8ff" stroke-width="2" fill="none" opacity="0.6"/><path d="M343.6 504.7 Q339.5 494.6 331.9 486.6" stroke="#aeaed6" stroke-width="2.4" fill="none" opacity="0.7"/><path d="M344.8 503.9 Q340.8 493.8 333.2 485.8" stroke="#f8f8ff" stroke-width="2" fill="none" opacity="0.6"/></g>
<circle cx="236.5" cy="522.3" r="17.5" fill="#a9a9c4"/>
<circle cx="236.5" cy="522.3" r="15.5" fill="#fbfbff"/>
<circle cx="354.4" cy="521.5" r="17.5" fill="#a9a9c4"/>
<circle cx="354.4" cy="521.5" r="15.5" fill="#fbfbff"/>
<circle cx="203" cy="537" r="6" fill="#eeeef8"/>
<circle cx="321.6" cy="537" r="6" fill="#eeeef8"/>
<circle cx="202" cy="536.5" r="3.2" fill="#d8d8ee" stroke="#5a5a98" stroke-width="2"/>
<circle cx="320.6" cy="536.6" r="3.2" fill="#d8d8ee" stroke="#5a5a98" stroke-width="2"/>
</g>
<!-- instruction sheet -->
<g fill="none" stroke="#9a9a9a" stroke-width="1">
<rect x="455.5" y="471.5" width="146" height="98.5" stroke="#ececec" fill="#ffffff"/>
<rect x="468" y="484.5" width="26" height="50.5" stroke="#a0a0a0" stroke-width="1.3"/>
<line x1="468" y1="510" x2="494" y2="510" stroke="#a0a0a0" stroke-width="1.3"/>
<rect x="503" y="484.5" width="25" height="50.5" stroke="#a0a0a0" stroke-width="1.3"/>
<rect x="540.5" y="484.5" width="25.5" height="50.5" stroke="#a0a0a0" stroke-width="1.3"/>
<rect x="551.5" y="484.5" width="14" height="16.5" stroke="#a0a0a0" stroke-width="1.2"/>
<rect x="576" y="484.5" width="23" height="24" stroke="#a8a8a8" stroke-width="1.2"/>
<rect x="575" y="511" width="24" height="24" stroke="#a8a8a8" stroke-width="1.2"/>
<line x1="494" y1="477.0" x2="498.5" y2="478.6" stroke="#8a8a8a" stroke-width="0.9"/><line x1="494" y1="479.2" x2="498.5" y2="480.8" stroke="#8a8a8a" stroke-width="0.9"/><line x1="494" y1="481.4" x2="498.5" y2="483.0" stroke="#8a8a8a" stroke-width="0.9"/><line x1="494" y1="483.6" x2="498.5" y2="485.2" stroke="#8a8a8a" stroke-width="0.9"/><line x1="494" y1="485.8" x2="498.5" y2="487.4" stroke="#8a8a8a" stroke-width="0.9"/><line x1="494" y1="488.0" x2="498.5" y2="489.6" stroke="#8a8a8a" stroke-width="0.9"/><line x1="494" y1="490.2" x2="498.5" y2="491.8" stroke="#8a8a8a" stroke-width="0.9"/><line x1="494" y1="492.4" x2="498.5" y2="494.0" stroke="#8a8a8a" stroke-width="0.9"/><line x1="494" y1="494.6" x2="498.5" y2="496.2" stroke="#8a8a8a" stroke-width="0.9"/><line x1="494" y1="496.8" x2="498.5" y2="498.4" stroke="#8a8a8a" stroke-width="0.9"/><line x1="494" y1="499.0" x2="498.5" y2="500.6" stroke="#8a8a8a" stroke-width="0.9"/><line x1="494" y1="501.2" x2="498.5" y2="502.8" stroke="#8a8a8a" stroke-width="0.9"/><line x1="494" y1="503.4" x2="498.5" y2="505.0" stroke="#8a8a8a" stroke-width="0.9"/><line x1="494" y1="505.6" x2="498.5" y2="507.2" stroke="#8a8a8a" stroke-width="0.9"/><line x1="494" y1="507.8" x2="498.5" y2="509.4" stroke="#8a8a8a" stroke-width="0.9"/><line x1="494" y1="510.0" x2="498.5" y2="511.6" stroke="#8a8a8a" stroke-width="0.9"/><line x1="494" y1="512.2" x2="498.5" y2="513.8" stroke="#8a8a8a" stroke-width="0.9"/><line x1="494" y1="514.4" x2="498.5" y2="516.0" stroke="#8a8a8a" stroke-width="0.9"/><line x1="494" y1="516.6" x2="498.5" y2="518.2" stroke="#8a8a8a" stroke-width="0.9"/><line x1="494" y1="518.8" x2="498.5" y2="520.4" stroke="#8a8a8a" stroke-width="0.9"/><line x1="494" y1="521.0" x2="498.5" y2="522.6" stroke="#8a8a8a" stroke-width="0.9"/><line x1="494" y1="523.2" x2="498.5" y2="524.8" stroke="#8a8a8a" stroke-width="0.9"/><line x1="494" y1="525.4" x2="498.5" y2="527.0" stroke="#8a8a8a" stroke-width="0.9"/><line x1="494" y1="527.6" x2="498.5" y2="529.2" stroke="#8a8a8a" stroke-width="0.9"/><line x1="494" y1="529.8" x2="498.5" y2="531.4" stroke="#8a8a8a" stroke-width="0.9"/><line x1="494" y1="532.0" x2="498.5" y2="533.6" stroke="#8a8a8a" stroke-width="0.9"/><line x1="494" y1="534.2" x2="498.5" y2="535.8" stroke="#8a8a8a" stroke-width="0.9"/><line x1="528.5" y1="478.0" x2="535" y2="479.6" stroke="#8a8a8a" stroke-width="0.9"/><line x1="528.5" y1="480.2" x2="535" y2="481.8" stroke="#8a8a8a" stroke-width="0.9"/><line x1="528.5" y1="482.4" x2="535" y2="484.0" stroke="#8a8a8a" stroke-width="0.9"/><line x1="528.5" y1="484.6" x2="535" y2="486.2" stroke="#8a8a8a" stroke-width="0.9"/><line x1="528.5" y1="486.8" x2="535" y2="488.4" stroke="#8a8a8a" stroke-width="0.9"/><line x1="528.5" y1="489.0" x2="535" y2="490.6" stroke="#8a8a8a" stroke-width="0.9"/><line x1="528.5" y1="491.2" x2="535" y2="492.8" stroke="#8a8a8a" stroke-width="0.9"/><line x1="528.5" y1="493.4" x2="535" y2="495.0" stroke="#8a8a8a" stroke-width="0.9"/><line x1="528.5" y1="495.6" x2="535" y2="497.2" stroke="#8a8a8a" stroke-width="0.9"/><line x1="528.5" y1="497.8" x2="535" y2="499.4" stroke="#8a8a8a" stroke-width="0.9"/><line x1="528.5" y1="500.0" x2="535" y2="501.6" stroke="#8a8a8a" stroke-width="0.9"/><line x1="528.5" y1="502.2" x2="535" y2="503.8" stroke="#8a8a8a" stroke-width="0.9"/><line x1="528.5" y1="504.4" x2="535" y2="506.0" stroke="#8a8a8a" stroke-width="0.9"/><line x1="528.5" y1="506.6" x2="535" y2="508.2" stroke="#8a8a8a" stroke-width="0.9"/><line x1="528.5" y1="508.8" x2="535" y2="510.4" stroke="#8a8a8a" stroke-width="0.9"/><line x1="528.5" y1="511.0" x2="535" y2="512.6" stroke="#8a8a8a" stroke-width="0.9"/><line x1="528.5" y1="513.2" x2="535" y2="514.8" stroke="#8a8a8a" stroke-width="0.9"/><line x1="528.5" y1="515.4" x2="535" y2="517.0" stroke="#8a8a8a" stroke-width="0.9"/><line x1="528.5" y1="517.6" x2="535" y2="519.2" stroke="#8a8a8a" stroke-width="0.9"/><line x1="528.5" y1="519.8" x2="535" y2="521.4" stroke="#8a8a8a" stroke-width="0.9"/><line x1="528.5" y1="522.0" x2="535" y2="523.6" stroke="#8a8a8a" stroke-width="0.9"/><line x1="528.5" y1="524.2" x2="535" y2="525.8" stroke="#8a8a8a" stroke-width="0.9"/><line x1="528.5" y1="526.4" x2="535" y2="528.0" stroke="#8a8a8a" stroke-width="0.9"/><line x1="528.5" y1="528.6" x2="535" y2="530.2" stroke="#8a8a8a" stroke-width="0.9"/><line x1="528.5" y1="530.8" x2="535" y2="532.4" stroke="#8a8a8a" stroke-width="0.9"/><line x1="528.5" y1="533.0" x2="535" y2="534.6" stroke="#8a8a8a" stroke-width="0.9"/><line x1="566" y1="477.0" x2="571" y2="478.6" stroke="#8a8a8a" stroke-width="0.9"/><line x1="566" y1="479.2" x2="571" y2="480.8" stroke="#8a8a8a" stroke-width="0.9"/><line x1="566" y1="481.4" x2="571" y2="483.0" stroke="#8a8a8a" stroke-width="0.9"/><line x1="566" y1="483.6" x2="571" y2="485.2" stroke="#8a8a8a" stroke-width="0.9"/><line x1="566" y1="485.8" x2="571" y2="487.4" stroke="#8a8a8a" stroke-width="0.9"/><line x1="566" y1="488.0" x2="571" y2="489.6" stroke="#8a8a8a" stroke-width="0.9"/><line x1="566" y1="490.2" x2="571" y2="491.8" stroke="#8a8a8a" stroke-width="0.9"/><line x1="566" y1="492.4" x2="571" y2="494.0" stroke="#8a8a8a" stroke-width="0.9"/><line x1="566" y1="494.6" x2="571" y2="496.2" stroke="#8a8a8a" stroke-width="0.9"/><line x1="566" y1="496.8" x2="571" y2="498.4" stroke="#8a8a8a" stroke-width="0.9"/><line x1="566" y1="499.0" x2="571" y2="500.6" stroke="#8a8a8a" stroke-width="0.9"/><line x1="566" y1="501.2" x2="571" y2="502.8" stroke="#8a8a8a" stroke-width="0.9"/><line x1="566" y1="503.4" x2="571" y2="505.0" stroke="#8a8a8a" stroke-width="0.9"/><line x1="566" y1="505.6" x2="571" y2="507.2" stroke="#8a8a8a" stroke-width="0.9"/><line x1="566" y1="507.8" x2="571" y2="509.4" stroke="#8a8a8a" stroke-width="0.9"/><line x1="566" y1="510.0" x2="571" y2="511.6" stroke="#8a8a8a" stroke-width="0.9"/><line x1="566" y1="512.2" x2="571" y2="513.8" stroke="#8a8a8a" stroke-width="0.9"/><line x1="566" y1="514.4" x2="571" y2="516.0" stroke="#8a8a8a" stroke-width="0.9"/><line x1="566" y1="516.6" x2="571" y2="518.2" stroke="#8a8a8a" stroke-width="0.9"/><line x1="566" y1="518.8" x2="571" y2="520.4" stroke="#8a8a8a" stroke-width="0.9"/><line x1="566" y1="521.0" x2="571" y2="522.6" stroke="#8a8a8a" stroke-width="0.9"/><line x1="566" y1="523.2" x2="571" y2="524.8" stroke="#8a8a8a" stroke-width="0.9"/><line x1="566" y1="525.4" x2="571" y2="527.0" stroke="#8a8a8a" stroke-width="0.9"/><line x1="566" y1="527.6" x2="571" y2="529.2" stroke="#8a8a8a" stroke-width="0.9"/><line x1="566" y1="529.8" x2="571" y2="531.4" stroke="#8a8a8a" stroke-width="0.9"/><line x1="566" y1="532.0" x2="571" y2="533.6" stroke="#8a8a8a" stroke-width="0.9"/><line x1="566" y1="534.2" x2="571" y2="535.8" stroke="#8a8a8a" stroke-width="0.9"/><line x1="574.5" y1="512.0" x2="577" y2="513.6" stroke="#8a8a8a" stroke-width="0.9"/><line x1="574.5" y1="514.2" x2="577" y2="515.8" stroke="#8a8a8a" stroke-width="0.9"/><line x1="574.5" y1="516.4" x2="577" y2="518.0" stroke="#8a8a8a" stroke-width="0.9"/><line x1="574.5" y1="518.6" x2="577" y2="520.2" stroke="#8a8a8a" stroke-width="0.9"/><line x1="574.5" y1="520.8" x2="577" y2="522.4" stroke="#8a8a8a" stroke-width="0.9"/><line x1="574.5" y1="523.0" x2="577" y2="524.6" stroke="#8a8a8a" stroke-width="0.9"/><line x1="574.5" y1="525.2" x2="577" y2="526.8" stroke="#8a8a8a" stroke-width="0.9"/><line x1="574.5" y1="527.4" x2="577" y2="529.0" stroke="#8a8a8a" stroke-width="0.9"/><line x1="574.5" y1="529.6" x2="577" y2="531.2" stroke="#8a8a8a" stroke-width="0.9"/><line x1="574.5" y1="531.8" x2="577" y2="533.4" stroke="#8a8a8a" stroke-width="0.9"/><line x1="574.5" y1="534.0" x2="577" y2="535.6" stroke="#8a8a8a" stroke-width="0.9"/>
<line x1="497" y1="477" x2="497" y2="484" stroke="#777"/>
<line x1="533" y1="477" x2="533" y2="484" stroke="#777"/>
<line x1="567.5" y1="477" x2="567.5" y2="484" stroke="#777"/>
<g stroke="#c8c8c8" stroke-width="1">
<path d="M471 502 Q482 495 493 492 M471 506 Q482 500 493 497 M471 532 Q482 522 493 514 M472 528 L490 516"/>
<path d="M506 487 Q515 505 520 520 L522 534 M510 486 Q518 500 524 512 M518 520 L526 534"/>
<path d="M543 496 Q550 510 555 520 L558 534 M545 492 L560 510 M555 512 L566 520"/>
<path d="M579 490 L579 506 M583 487 Q588 495 585 505 M592 488 L597 505 M580 515 L580 533 M585 520 L592 528 M593 515 L597 530"/>
</g>
<g fill="#4a4a4a" stroke="none">
<circle cx="478" cy="494.5" r="1.4"/>
<circle cx="481" cy="519" r="1.2"/>
<circle cx="520" cy="505" r="1.5"/>
<circle cx="523" cy="511" r="1.2"/>
<circle cx="553" cy="488" r="1.3"/>
<path d="M554 497 L558 493" stroke="#555" stroke-width="1.3"/>
<circle cx="547.5" cy="520.5" r="1.2"/>
</g>
<rect x="468" y="539" width="25" height="26" stroke="#b0b0b0" stroke-width="1.6"/>
<rect x="495" y="539" width="24" height="26" stroke="#b0b0b0" stroke-width="1.6"/>
<rect x="521" y="539" width="24" height="26" stroke="#b0b0b0" stroke-width="1.6"/>
<rect x="547" y="539" width="25" height="26" stroke="#b0b0b0" stroke-width="1.6"/>
<rect x="573.5" y="539" width="25" height="26" stroke="#b0b0b0" stroke-width="1.6"/>
<g stroke="#9a9a9a" stroke-width="0.9">
<circle cx="532.5" cy="552" r="6"/>
<path d="M472 553 L490 556 M497 547 L516 559 M503 551 L505 546 M551 561 L559 554 M559 554 L562 552 M559 554 L561 557 M577 562 L594 548 L595 545 M531 554 L534 550"/>
</g>
<g fill="#777" stroke="none">
<rect x="488" y="542" width="2" height="3"/>
<rect x="515" y="542" width="2" height="3"/>
<rect x="541" y="542" width="2" height="3"/>
<rect x="568" y="542" width="2" height="3"/>
<rect x="594" y="542" width="2" height="3"/>
</g>
<circle cx="466.5" cy="533.5" r="1.7" fill="#111" stroke="none"/>
<circle cx="502" cy="533.5" r="1.7" fill="#111" stroke="none"/>
<circle cx="539" cy="533.5" r="1.7" fill="#111" stroke="none"/>
<text x="0" y="0" transform="translate(465 529) rotate(-90)" font-family="Liberation Sans" font-size="6.5" font-weight="bold" fill="#555" stroke="none" textLength="35" lengthAdjust="spacingAndGlyphs">Install Steps</text>
<text x="0" y="0" transform="translate(471.5 562) rotate(-90)" font-family="Liberation Sans" font-size="3.5" fill="#777" stroke="none">Install</text>
</g>
</svg>
<div class="lbl" style="left:192.6px;top:423.6px;font-size:26px;transform:scaleX(0.955)">Round Tubes</div>
<div class="lbl" style="left:395.4px;top:423.6px;font-size:26px;transform:scaleX(0.9566)">Tube Bases &amp;  Tools</div>
<div class="lbl" style="left:196.1px;top:591.2px;font-size:26px;transform:scaleX(0.972)">Waterbags</div>
<div class="lbl" style="left:376px;top:591.2px;font-size:26px;transform:scaleX(0.991)">Installation Instruction</div>
</body></html>
